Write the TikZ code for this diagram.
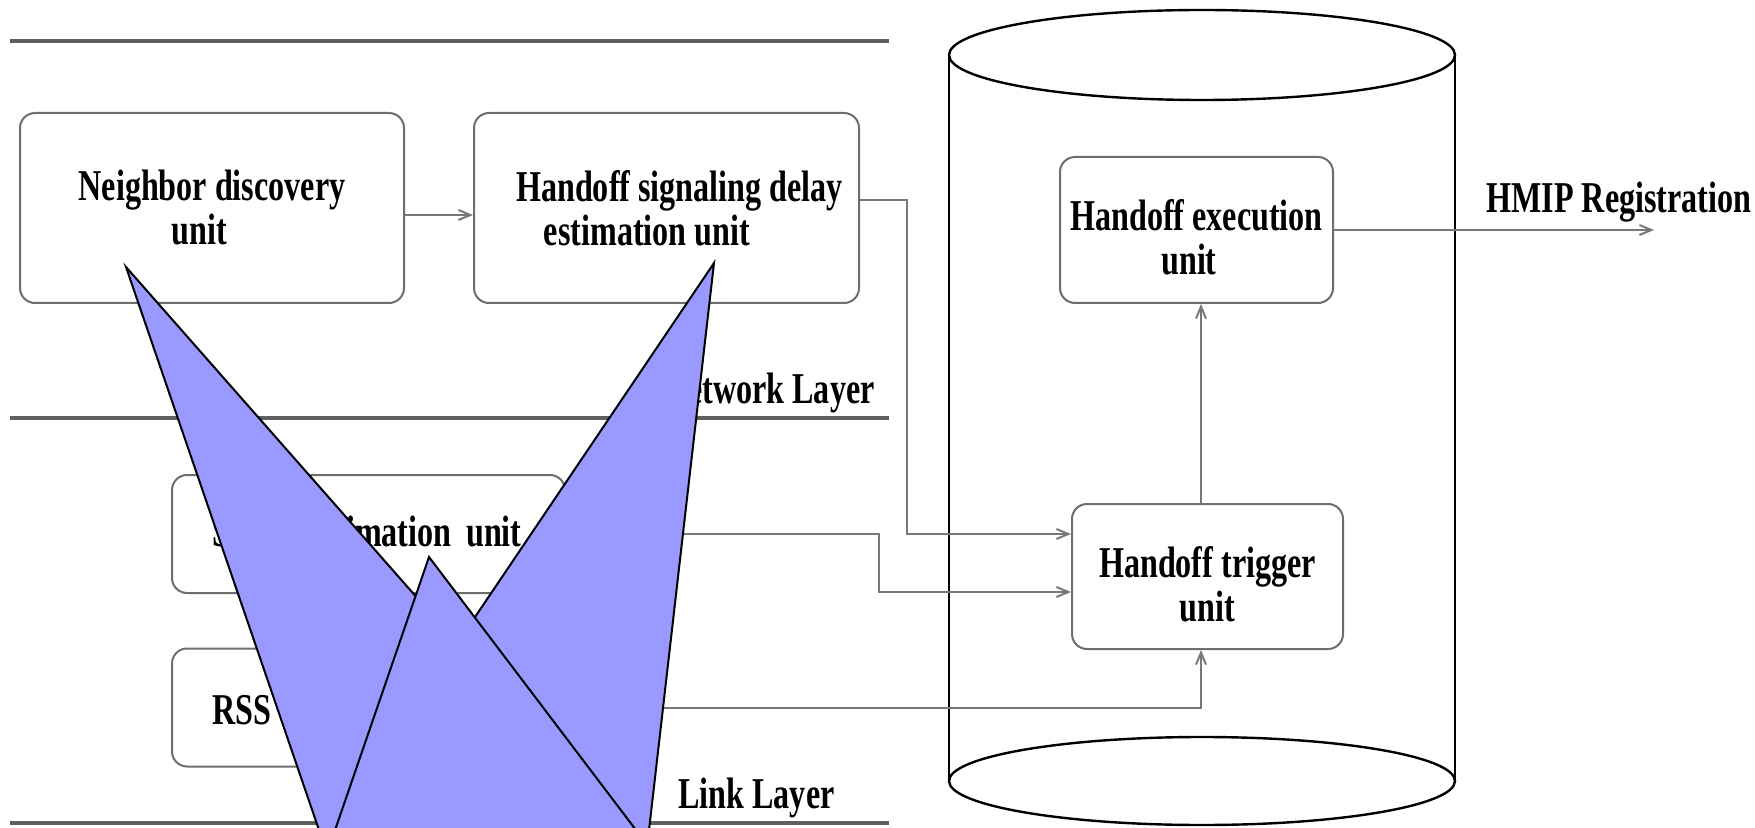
\documentclass[tikz,border=0pt]{standalone}
\usepackage{fontspec}
\newfontfamily\figfont[FakeStretch=0.73]{Liberation Serif}
\usetikzlibrary{arrows.meta}

\definecolor{boxgray}{RGB}{110,110,110}
\definecolor{conngray}{RGB}{120,120,120}
\definecolor{layergray}{RGB}{95,95,95}
\definecolor{wedgeblue}{RGB}{153,153,255}

\tikzset{
  figtext/.style={font=\figfont\bfseries\fontsize{22}{22}\selectfont, text=black, inner sep=0pt},
  unitbox/.style={figtext, draw=boxgray, line width=1pt, rounded corners=7.5pt,
    fill=white, align=center, inner sep=0pt},
  leftbox/.style={unitbox, align=left, inner xsep=20pt, inner ysep=0pt,
    text width=156.5pt, minimum height=59pt},
  conn/.style={draw=conngray, line width=1pt, -{Straight Barb[length=6pt,width=5pt]}},
  layerline/.style={draw=layergray, line width=1.75pt},
  cylside/.style={draw=black, line width=0.8pt},
  cylrim/.style={draw=black, line width=1.2pt},
  wedge/.style={fill=wedgeblue, draw=black, line width=1pt, line join=miter}
}

\begin{document}
\begin{tikzpicture}[x=0.5pt,y=-0.5pt]
\useasboundingbox (0,0) rectangle (1755,828);

% layer separators
\draw[layerline] (10,41) -- (889,41);
\draw[layerline] (10,418) -- (889,418);
\draw[layerline] (10,823) -- (889,823);

\node[figtext, anchor=base east] (netlayer) at (875,403) {Network Layer};
\node[figtext, anchor=base west] (linklayer) at (678,808) {Link Layer};

% cylinder
\draw[cylside] (949,55) -- (949,781);
\draw[cylside] (1455,55) -- (1455,781);
\draw[cylrim] (1202,55) ellipse [x radius=126.5pt, y radius=22.5pt];
\draw[cylrim] (1202,781) ellipse [x radius=126.5pt, y radius=22pt];

% network layer units
\node[unitbox, minimum width=192pt, minimum height=95pt] (nd) at (212,208)
  {Neighbor discovery\\unit\hspace*{12.5pt}};
\node[unitbox, minimum width=192.5pt, minimum height=95pt] (hs) at (666.5,208)
  {\hspace*{13pt}Handoff signaling delay\\estimation unit\hspace*{19.5pt}};

% link layer units
\node[leftbox, minimum width=196.5pt] (se) at (368.5,534)
  {\rule{0pt}{17pt}Speed estimation unit};
\node[leftbox, minimum width=196.5pt] (rss) at (368.5,707.5)
  {\rule{0pt}{17pt}RSS estimation unit};

% handoff units
\node[unitbox, minimum width=136.5pt, minimum height=73pt] (he) at (1196.5,230)
  {\rule{0pt}{23pt}Handoff execution\\unit\hspace*{7.5pt}};
\node[unitbox, minimum width=135.5pt, minimum height=72.5pt] (ht) at (1207.5,576.5)
  {\rule{0pt}{23.5pt}Handoff trigger\\unit};

\node[figtext, anchor=base west] (hmip) at (1486,213) {HMIP Registration};
\coordinate (regend) at (1654,230);

% connectors
\draw[conn] ([yshift=-3.5pt]nd.east) -- ([yshift=-3.5pt]hs.west);
\draw[conn] ([yshift=4pt]hs.east) -| (907,534) -- ([yshift=21.25pt]ht.west);
\draw[conn] (se.east) -| (879,592) -- ([yshift=-7.75pt]ht.west);
\draw[conn] (rss.east) -| ([xshift=-3.25pt]ht.south);
\draw[conn] ([xshift=-3.25pt]ht.north) -- ([xshift=2.25pt]he.south);
\draw[conn] (he.east) -- (regend);

% overlaid blue spikes
\begin{scope}
  \clip (0,0) rectangle (1755,828);
  \draw[wedge] (126,267) -- (343,900) -- (507,700) -- cycle;
  \draw[wedge] (714,263) -- (641,900) -- (419,700) -- cycle;
  \draw[wedge] (429,557) -- (311,900) -- (689,900) -- cycle;
\end{scope}
\end{tikzpicture}
\end{document}
